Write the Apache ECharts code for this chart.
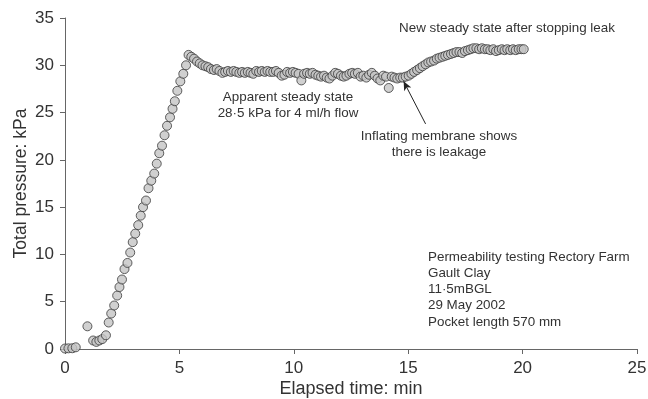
<!DOCTYPE html>
<html>
<head>
<meta charset="utf-8">
<script src="https://cdn.jsdelivr.net/npm/echarts@6/dist/echarts.min.js"></script>
<style>
  html, body { margin: 0; padding: 0; background: #fff; }
  #chart { width: 648px; height: 399px; }
</style>
</head>
<body>
<div id="chart"></div>
<script>
// Elapsed time (min) of each pressure reading
const elapsedMin = [
  0.00, 0.15, 0.32, 0.47, 0.98, 1.23, 1.37, 1.50, 1.63, 1.79,
  1.91, 2.02, 2.15, 2.28, 2.38, 2.49, 2.60, 2.73, 2.85, 2.96,
  3.07, 3.20, 3.31, 3.41, 3.54, 3.65, 3.77, 3.90, 4.01, 4.12,
  4.24, 4.35, 4.46, 4.59, 4.70, 4.80, 4.91, 5.04, 5.17, 5.29,
  5.40, 5.52, 5.64, 5.77, 5.89, 6.01, 6.14, 6.26, 6.38, 6.51,
  6.63, 6.75, 6.88, 7.00, 7.12, 7.25, 7.37, 7.49, 7.62, 7.74,
  7.86, 7.99, 8.11, 8.23, 8.36, 8.48, 8.60, 8.73, 8.85, 8.97,
  9.10, 9.22, 9.34, 9.47, 9.59, 9.71, 9.84, 9.96, 10.08, 10.21,
  10.33, 10.45, 10.58, 10.70, 10.82, 10.95, 11.07, 11.19, 11.32, 11.44,
  11.56, 11.69, 11.81, 11.93, 12.06, 12.18, 12.30, 12.43, 12.55, 12.67,
  12.80, 12.92, 13.04, 13.17, 13.29, 13.41, 13.54, 13.66, 13.78, 13.91,
  14.03, 14.15, 14.28, 14.40, 14.52, 14.65, 14.77, 14.89, 15.02, 15.14,
  15.26, 15.39, 15.51, 15.63, 15.76, 15.88, 16.00, 16.13, 16.25, 16.37,
  16.50, 16.62, 16.74, 16.87, 16.99, 17.11, 17.24, 17.36, 17.48, 17.61,
  17.73, 17.85, 17.98, 18.10, 18.22, 18.35, 18.47, 18.59, 18.72, 18.84,
  18.96, 19.09, 19.21, 19.33, 19.46, 19.58, 19.70, 19.83, 19.95, 20.05
];

// Total pressure (kPa) recorded at each time
const pressureKPa = [
  0.05, 0.07, 0.08, 0.18, 2.4, 0.9, 0.75, 0.9, 1.05, 1.45,
  2.8, 3.75, 4.6, 5.65, 6.55, 7.35, 8.45, 9.1, 10.2, 11.3,
  12.2, 13.1, 14.1, 15.0, 15.7, 17.0, 17.8, 18.55, 19.6, 20.7,
  21.5, 22.6, 23.6, 24.5, 25.4, 26.2, 27.3, 28.3, 29.1, 30.0,
  31.1, 30.9, 30.7, 30.4, 30.2, 30.0, 29.9, 29.8, 29.6, 29.5,
  29.6, 29.4, 29.2, 29.3, 29.4, 29.3, 29.4, 29.3, 29.2, 29.3,
  29.2, 29.3, 29.2, 29.1, 29.4, 29.3, 29.4, 29.3, 29.4, 29.3,
  29.3, 29.4, 29.2, 28.9, 29.0, 29.3, 29.2, 29.3, 29.2, 29.1,
  28.4, 29.1, 29.2, 29.1, 29.2, 29.0, 28.9, 28.8, 28.9, 28.7,
  28.6, 28.9, 29.2, 29.1, 28.9, 28.8, 28.9, 29.1, 29.2, 29.1,
  29.2, 28.8, 28.9, 28.7, 29.0, 29.2, 28.9, 28.6, 28.4, 28.9,
  28.8, 27.6, 28.8, 28.7, 28.6, 28.7, 28.7, 28.8, 28.9, 29.1,
  29.3, 29.5, 29.7, 29.9, 30.1, 30.3, 30.4, 30.5, 30.7, 30.8,
  30.9, 31.0, 31.1, 31.2, 31.3, 31.4, 31.4, 31.3, 31.5, 31.6,
  31.7, 31.8, 31.8, 31.7, 31.8, 31.7, 31.7, 31.6, 31.7, 31.5,
  31.6, 31.7, 31.6, 31.7, 31.6, 31.7, 31.6, 31.7, 31.7, 31.7
];

// Axis ticks
const xTicks = [0, 5, 10, 15, 20, 25];
const yTicks = [0, 5, 10, 15, 20, 25, 30, 35];

// Arrow pointing at the start of the leak (tail, head) in data units
const leakArrowTail = [15.76, 23.8];
const leakArrowHead = [14.80, 28.3];

// Test details block
const infoLines = [
  'Permeability testing Rectory Farm',
  'Gault Clay',
  '11\u00B75mBGL',
  '29 May 2002',
  'Pocket length 570 mm'
];

const points = elapsedMin.map((t, i) => [t, pressureKPa[i]]);

const FONT = '"Liberation Sans", Arial, sans-serif';
const textColor = '#333';
const axisColor = '#666';
const noteSize = 13.4;

const chart = echarts.init(document.getElementById('chart'), null, { renderer: 'canvas' });

chart.setOption({
  animation: false,
  backgroundColor: '#fff',
  grid: {
    left: 65, right: 11, top: 18, bottom: 50,
    containLabel: false,
    outerBoundsMode: 'none'
  },
  xAxis: {
    type: 'value',
    min: xTicks[0],
    max: xTicks[xTicks.length - 1],
    interval: xTicks[1] - xTicks[0],
    name: 'Elapsed time: min',
    nameLocation: 'middle',
    nameGap: 31,
    nameMoveOverlap: false,
    nameTextStyle: { fontFamily: FONT, fontSize: 18, color: textColor },
    axisLine: { lineStyle: { color: axisColor, width: 1 } },
    axisTick: { length: 5, lineStyle: { color: axisColor } },
    axisLabel: { fontFamily: FONT, fontSize: 17, color: textColor, margin: 11 },
    splitLine: { show: false }
  },
  yAxis: {
    type: 'value',
    min: yTicks[0],
    max: yTicks[yTicks.length - 1],
    interval: yTicks[1] - yTicks[0],
    name: 'Total pressure: kPa',
    nameLocation: 'middle',
    nameGap: 35,
    nameMoveOverlap: false,
    nameTextStyle: { fontFamily: FONT, fontSize: 17.5, color: textColor },
    axisLine: { show: true, lineStyle: { color: axisColor, width: 1 } },
    axisTick: { show: true, length: 5, lineStyle: { color: axisColor } },
    axisLabel: { fontFamily: FONT, fontSize: 17, color: textColor, margin: 11 },
    splitLine: { show: false }
  },
  series: [{
    type: 'scatter',
    data: points,
    symbol: 'circle',
    symbolSize: 9,
    itemStyle: { color: '#c4c4c4', borderColor: '#3a3a3a', borderWidth: 1 },
    markLine: {
      silent: true,
      symbol: ['none', 'arrow'],
      symbolSize: [6, 9],
      label: { show: false },
      lineStyle: { color: '#222', width: 1, type: 'solid' },
      data: [[{ coord: leakArrowTail }, { coord: leakArrowHead }]]
    }
  }],
  graphic: [
    {
      type: 'text',
      x: 288, y: 89,
      style: {
        text: 'Apparent steady state\n28\u00B75 kPa for 4 ml/h flow',
        fontFamily: FONT, fontSize: noteSize, fill: textColor,
        align: 'center', lineHeight: 16
      }
    },
    {
      type: 'text',
      x: 507, y: 22,
      style: {
        text: 'New steady state after stopping leak',
        fontFamily: FONT, fontSize: noteSize, fill: textColor, align: 'center'
      }
    },
    {
      type: 'text',
      x: 439, y: 128,
      style: {
        text: 'Inflating membrane shows\nthere is leakage',
        fontFamily: FONT, fontSize: noteSize, fill: textColor,
        align: 'center', lineHeight: 16
      }
    },
    {
      type: 'text',
      x: 428, y: 249,
      style: {
        text: infoLines.join('\n'),
        fontFamily: FONT, fontSize: noteSize, fill: textColor,
        align: 'left', lineHeight: 16.2
      }
    }
  ]
});
</script>
</body>
</html>
